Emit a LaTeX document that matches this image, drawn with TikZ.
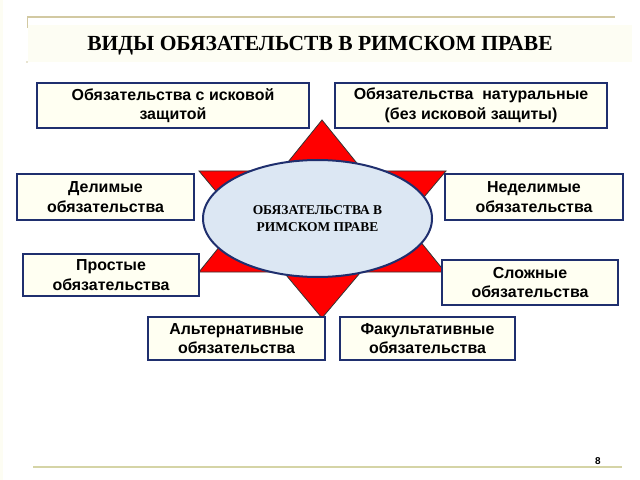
\documentclass[tikz,border=0pt]{standalone}
\usepackage{fontspec}
\setmainfont{Liberation Serif}
\setsansfont{Liberation Sans}
\usepackage{tikz}
\usetikzlibrary{shapes.geometric}
\definecolor{navy}{HTML}{1F2F6E}
\definecolor{ivory}{HTML}{FFFFF2}
\definecolor{tan}{HTML}{D2C9A2}
\definecolor{olive}{HTML}{D5D4A6}
\definecolor{cream}{HTML}{FDFDF3}
\definecolor{sky}{HTML}{DCE7F3}
\tikzstyle{Kind}=[draw=navy, fill=ivory, line width=2.4bp, shape=rectangle, align=center, text=black, inner sep=0pt, font=\sffamily\bfseries\fontsize{16}{19.5}\selectfont]
\tikzstyle{Core}=[draw=navy, fill=sky, line width=2bp, shape=ellipse, inner sep=0pt, minimum width=229bp, minimum height=117bp, align=center, font=\rmfamily\bfseries\fontsize{13.5}{17}\selectfont]
\tikzstyle{star}=[fill=red, draw=black!80, line width=0.8bp, line join=miter]
\tikzstyle{rule}=[line width=2bp]

\begin{document}
\begin{tikzpicture}[x=1bp, y=-1bp]
	\useasboundingbox [fill=white] (0,0) rectangle (640,480);
	% page frame
	\fill [cream] (28,25) rectangle (632,62);
	\draw [rule, draw=tan] (27,17) -- (615,17);
	\draw [line width=1bp, draw=tan] (27,17) -- (27,28);
	\fill [tan] (27,62) circle (0.8);
	\draw [rule, draw=olive] (33,467) -- (622,467);
	\fill [cream] (0,0) rectangle (3,480);
	\node [font=\rmfamily\bfseries\fontsize{21.6}{24}\selectfont] (title) at (320,45.5) {ВИДЫ ОБЯЗАТЕЛЬСТВ В РИМСКОМ ПРАВЕ};
	\node [font=\sffamily\bfseries\fontsize{10}{12}\selectfont] (page) at (598,461) {8};

	% star
	\coordinate (up) at (322,120);
	\coordinate (upl) at (199,272);
	\coordinate (upr) at (445,272);
	\coordinate (dn) at (322,318);
	\coordinate (dnl) at (199,171);
	\coordinate (dnr) at (446,171);
	\filldraw [style=star] (up) -- (upr) -- (upl) -- cycle;
	\filldraw [style=star] (dn) -- (dnl) -- (dnr) -- cycle;
	\node [style=Core] (core) at (317.5,218.5) {ОБЯЗАТЕЛЬСТВА В\\РИМСКОМ ПРАВЕ};

	% kinds
	\node [style=Kind, minimum width=272bp, minimum height=45bp] (claim) at (173,105.5) {Обязательства с исковой\\защитой};
	\node [style=Kind, minimum width=272bp, minimum height=45bp] (natural) at (471,105.5) {Обязательства\ \ натуральные\\(без исковой защиты)};
	\node [style=Kind, minimum width=177bp, minimum height=46bp] (divisible) at (105.5,197) {Делимые\\обязательства};
	\node [style=Kind, minimum width=178bp, minimum height=46bp] (indivisible) at (534,197) {Неделимые\\обязательства};
	\node [style=Kind, minimum width=176bp, minimum height=42bp] (simple) at (111,275) {Простые\\обязательства};
	\node [style=Kind, minimum width=176bp, minimum height=45bp] (complex) at (530,282.5) {Сложные\\обязательства};
	\node [style=Kind, minimum width=177bp, minimum height=43bp] (alternative) at (236.5,338.5) {Альтернативные\\обязательства};
	\node [style=Kind, minimum width=175bp, minimum height=43bp] (facultative) at (427.5,338.5) {Факультативные\\обязательства};
\end{tikzpicture}
\end{document}
